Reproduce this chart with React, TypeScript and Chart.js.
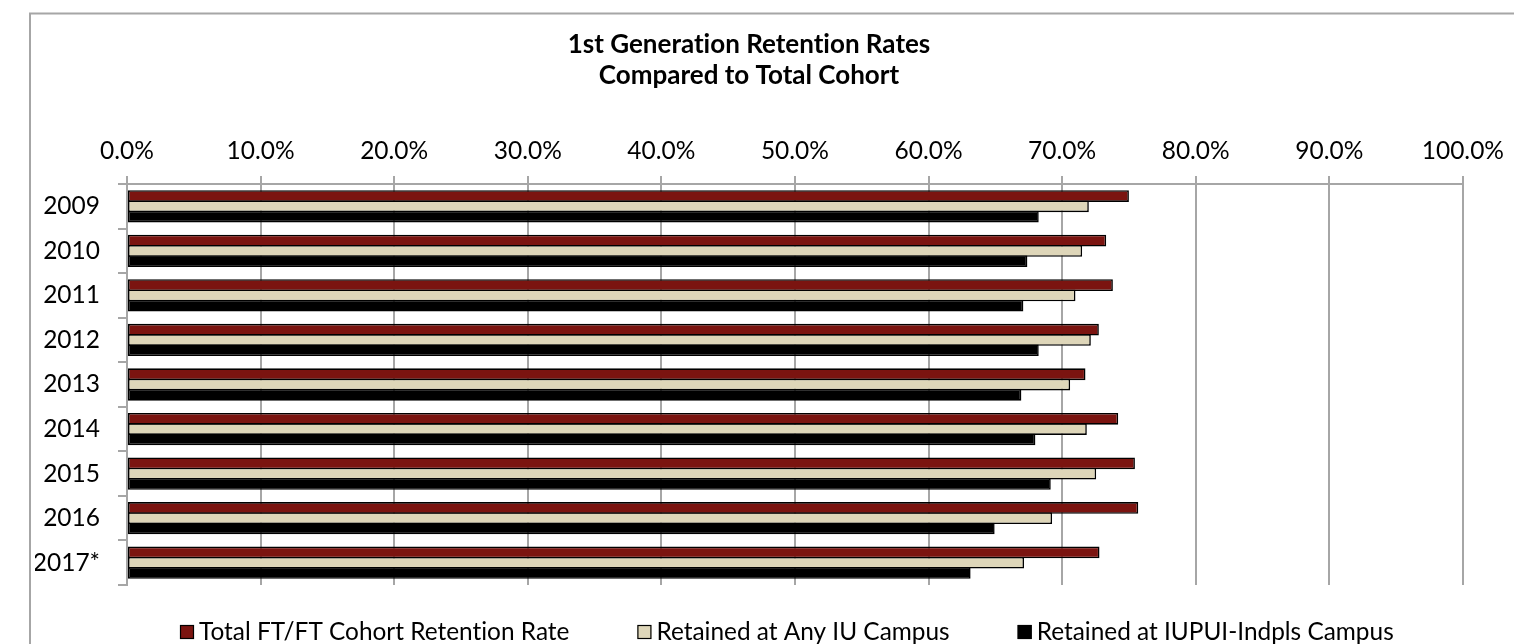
import React, { useEffect, useRef } from 'react';
import { Chart, registerables } from 'chart.js';

Chart.register(...registerables);

const years = ['2009', '2010', '2011', '2012', '2013', '2014', '2015', '2016', '2017*'];
const totalCohort = [75.0, 73.3, 73.8, 72.75, 71.75, 74.2, 75.45, 75.7, 72.8];
const anyIUCampus = [72.0, 71.5, 71.0, 72.15, 70.6, 71.85, 72.55, 69.25, 67.15];
const iupuiCampus = [68.25, 67.4, 67.1, 68.25, 66.95, 68.0, 69.15, 64.95, 63.15];
const seriesNames = [
  'Total FT/FT Cohort Retention Rate',
  'Retained at Any IU Campus',
  'Retained at IUPUI-Indpls Campus',
];
const seriesColors = ['#7b1410', '#ded6b9', '#000000'];
const titleLines = ['1st Generation Retention Rates', 'Compared to Total Cohort'];

const FONT = 'Lato';
const TEXT_SIZE = 24.5;
const LEGEND_SIZE = 24.4;
const TITLE_SIZE = 26;
const GRID = '#a6a6a6';

const framePlugin = {
  id: 'frame',
  beforeDraw(chart: any) {
    const ctx = chart.ctx;
    try {
      ctx.textRendering = 'optimizeSpeed';
    } catch (e) {
      /* ignore */
    }
    ctx.save();
    ctx.fillStyle = '#ffffff';
    ctx.fillRect(0, 0, chart.width, chart.height);
    ctx.strokeStyle = GRID;
    ctx.lineWidth = 2;
    ctx.strokeRect(30, 13.5, chart.width + 100, chart.height + 100);
    ctx.restore();
  },
};

const legendPlugin = {
  id: 'excelLegend',
  afterDraw(chart: any) {
    const ctx = chart.ctx;
    ctx.save();
    ctx.font = `${LEGEND_SIZE}px ${FONT}`;
    ctx.textBaseline = 'middle';
    ctx.textAlign = 'left';
    let x = 180;
    const y = 632;
    const box = 14;
    chart.data.datasets.forEach((ds: any) => {
      ctx.fillStyle = ds.backgroundColor;
      ctx.fillRect(x, y - box / 2, box, box);
      ctx.strokeStyle = '#000000';
      ctx.lineWidth = 1.2;
      ctx.strokeRect(x + 0.5, y - box / 2 + 0.5, box - 1, box - 1);
      ctx.fillStyle = '#000000';
      ctx.fillText(ds.label, x + box + 5, y);
      x += box + 5 + ctx.measureText(ds.label).width + 68;
    });
    ctx.restore();
  },
};

export default function App() {
  const canvasRef = useRef<HTMLCanvasElement | null>(null);

  useEffect(() => {
    if (!canvasRef.current) return;
    const values = [totalCohort, anyIUCampus, iupuiCampus];
    const chart = new Chart(canvasRef.current, {
      type: 'bar',
      data: {
        labels: years,
        datasets: values.map((v, i) => ({
          label: seriesNames[i],
          data: v,
          backgroundColor: seriesColors[i],
          borderColor: '#000000',
          borderWidth: 1.6,
          borderSkipped: false,
          categoryPercentage: 0.69,
          barPercentage: 1.15,
        })),
      },
      options: {
        indexAxis: 'y',
        responsive: false,
        animation: false,
        layout: { padding: { left: 35, right: 51, top: 0, bottom: 59 } },
        plugins: {
          legend: { display: false },
          tooltip: { enabled: false },
          title: {
            display: true,
            text: titleLines,
            color: '#000000',
            font: { family: FONT, size: TITLE_SIZE, weight: 'bold', lineHeight: 31 / TITLE_SIZE },
            padding: { top: 29.5, bottom: 0 },
          },
        },
        scales: {
          x: {
            type: 'linear',
            position: 'top',
            min: 0,
            max: 100,
            ticks: {
              stepSize: 10,
              padding: 10,
              color: '#000000',
              font: { family: FONT, size: TEXT_SIZE },
              callback: (v: any) => Number(v).toFixed(1) + '%',
            },
            grid: { color: GRID, lineWidth: 2, tickLength: 8 },
            border: { display: true, color: GRID, width: 2 },
            afterFit: (scale: any) => {
              scale.height = 92.5;
            },
          },
          y: {
            type: 'category',
            ticks: {
              padding: 18,
              color: '#000000',
              font: { family: FONT, size: TEXT_SIZE },
            },
            grid: { offset: true, drawOnChartArea: false, color: GRID, lineWidth: 2, tickLength: 9 },
            border: { display: true, color: GRID, width: 2 },
            afterFit: (scale: any) => {
              scale.width = 92;
            },
          },
        },
      },
      plugins: [framePlugin, legendPlugin],
    } as any);
    return () => chart.destroy();
  }, []);

  return (
    <div style={{ position: 'fixed', left: 0, top: 0, width: 1514, height: 644, background: '#fff' }}>
      <canvas ref={canvasRef} width={1514} height={644} style={{ display: 'block' }} />
    </div>
  );
}
